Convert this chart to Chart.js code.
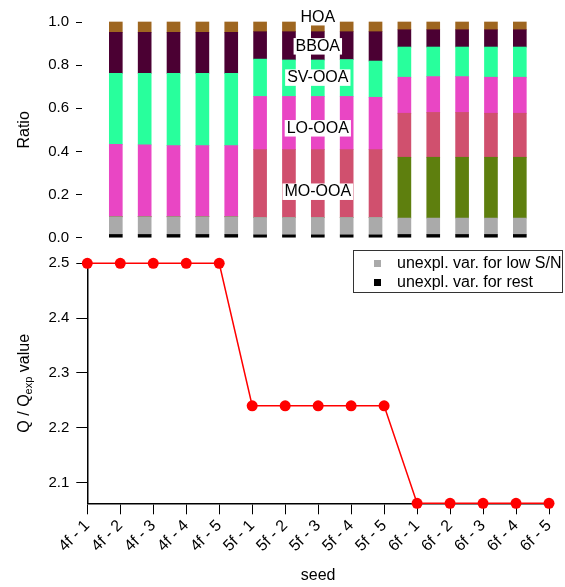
<!DOCTYPE html>
<html>
<head>
<meta charset="utf-8">
<script src="https://cdn.jsdelivr.net/npm/chart.js@4.4.0/dist/chart.umd.min.js"></script>
<style>
  html, body { margin: 0; padding: 0; background: #fff; }
  #wrap { position: relative; width: 565px; height: 587px; }
  #top { position: absolute; left: 0; top: 0; }
  #bottom { position: absolute; left: 0; top: 240px; }
</style>
</head>
<body>
<div id="wrap">
  <canvas id="top" width="565" height="254"></canvas>
  <canvas id="bottom" width="565" height="347"></canvas>
</div>
<script>
// seeds on the shared x axis
const seeds = ['4f - 1', '4f - 2', '4f - 3', '4f - 4', '4f - 5',
               '5f - 1', '5f - 2', '5f - 3', '5f - 4', '5f - 5',
               '6f - 1', '6f - 2', '6f - 3', '6f - 4', '6f - 5'];

// top panel: factor fractions, bottom to top of each stack
const unexplRest = [0.015, 0.015, 0.015, 0.015, 0.015, 0.013, 0.013, 0.013, 0.013, 0.013, 0.015, 0.015, 0.015, 0.015, 0.015];
const unexplLow  = [0.082, 0.082, 0.082, 0.082, 0.082, 0.081, 0.081, 0.081, 0.081, 0.081, 0.076, 0.076, 0.076, 0.076, 0.076];
const olive      = [0, 0, 0, 0, 0, 0, 0, 0, 0, 0, 0.282, 0.282, 0.282, 0.282, 0.282];
const moOoa      = [0, 0, 0, 0, 0, 0.314, 0.314, 0.314, 0.314, 0.314, 0.204, 0.208, 0.208, 0.204, 0.204];
const loOoa      = [0.336, 0.333, 0.330, 0.330, 0.330, 0.247, 0.247, 0.247, 0.247, 0.243, 0.167, 0.166, 0.166, 0.167, 0.167];
const svOoa      = [0.329, 0.332, 0.335, 0.335, 0.335, 0.173, 0.169, 0.169, 0.171, 0.168, 0.140, 0.137, 0.137, 0.140, 0.140];
const bboa       = [0.190, 0.190, 0.190, 0.190, 0.190, 0.127, 0.131, 0.131, 0.129, 0.136, 0.080, 0.080, 0.080, 0.080, 0.080];
const hoa        = [0.048, 0.048, 0.048, 0.048, 0.048, 0.045, 0.045, 0.045, 0.045, 0.045, 0.036, 0.036, 0.036, 0.036, 0.036];

// bottom panel
const qValues = [2.500, 2.500, 2.500, 2.500, 2.500, 2.240, 2.240, 2.240, 2.240, 2.240, 2.062, 2.062, 2.062, 2.062, 2.062];

const ratioTicks = [0, 0.2, 0.4, 0.6, 0.8, 1.0];

// factor names written over the 5f - 3 bar
const factorNames = ['HOA', 'BBOA', 'SV-OOA', 'LO-OOA', 'MO-OOA'];
const factorNameY = [1.028, 0.893, 0.748, 0.513, 0.219];
const factorNameBar = 7;

const FONT = 'Liberation Sans, Arial, sans-serif';
Chart.defaults.font.family = FONT;
Chart.defaults.font.size = 15;
Chart.defaults.color = '#000';

const stacks = [
  { label: 'unexpl. var. for rest', values: unexplRest, color: '#000000' },
  { label: 'unexpl. var. for low S/N', values: unexplLow, color: '#aaaaaa' },
  { label: 'OOA', values: olive, color: '#5e7f0e' },
  { label: 'MO-OOA', values: moOoa, color: '#d0506e' },
  { label: 'LO-OOA', values: loOoa, color: '#e946c4' },
  { label: 'SV-OOA', values: svOoa, color: '#28ff9c' },
  { label: 'BBOA', values: bboa, color: '#4b0033' },
  { label: 'HOA', values: hoa, color: '#9e6620' }
];

// rotated axis title, parts may be subscripts
function drawYTitle(ctx, x, y, parts) {
  ctx.save();
  ctx.translate(x, y);
  ctx.rotate(-Math.PI / 2);
  ctx.fillStyle = '#000';
  ctx.textBaseline = 'alphabetic';
  ctx.textAlign = 'left';
  let total = 0;
  parts.forEach(p => {
    ctx.font = (p.sub ? 11 : 16) + 'px ' + FONT;
    p.w = ctx.measureText(p.text).width;
    total += p.w;
  });
  let cx = -total / 2;
  parts.forEach(p => {
    ctx.font = (p.sub ? 11 : 16) + 'px ' + FONT;
    ctx.fillText(p.text, cx, p.sub ? 9 : 5.5);
    cx += p.w;
  });
  ctx.restore();
}

const factorNamePlugin = {
  id: 'factorNames',
  afterDatasetsDraw(chart) {
    const { ctx, scales } = chart;
    const x = scales.x.getPixelForValue(factorNameBar);
    ctx.save();
    ctx.font = '16px ' + FONT;
    ctx.textAlign = 'center';
    ctx.textBaseline = 'alphabetic';
    factorNames.forEach((name, i) => {
      const y = scales.y.getPixelForValue(factorNameY[i]);
      const w = ctx.measureText(name).width + 4;
      ctx.fillStyle = '#fff';
      ctx.fillRect(x - w / 2, y - 7, w, 16.5);
      ctx.fillStyle = '#000';
      ctx.fillText(name, x, y + 5.7);
    });
    ctx.restore();
  },
  afterDraw(chart) {
    const a = chart.chartArea;
    drawYTitle(chart.ctx, 23, (a.top + a.bottom) / 2, [{ text: 'Ratio' }]);
  }
};

new Chart(document.getElementById('top'), {
  type: 'bar',
  data: {
    datasets: stacks.map(s => ({
      label: s.label,
      data: s.values.map((v, i) => ({ x: i, y: v })),
      backgroundColor: s.color,
      borderWidth: 0,
      barThickness: 13,
      clip: false
    }))
  },
  options: {
    responsive: false,
    animation: false,
    devicePixelRatio: 1,
    layout: { padding: { top: 22, right: 16, bottom: 16.3, left: 0 } },
    plugins: { legend: { display: false }, tooltip: { enabled: false } },
    scales: {
      x: { type: 'linear', display: false, stacked: true, min: -0.16, max: seeds.length - 1 },
      y: {
        stacked: true,
        min: ratioTicks[0],
        max: ratioTicks[ratioTicks.length - 1],
        afterBuildTicks: s => { s.ticks = ratioTicks.map(v => ({ value: v })); },
        ticks: { callback: v => v.toFixed(1), padding: 7 },
        grid: { drawOnChartArea: false, tickLength: 6, color: '#000', lineWidth: 1 },
        border: { display: false },
        afterFit: s => { s.width = 82; }
      }
    }
  },
  plugins: [factorNamePlugin]
});

const bottomPlugin = {
  id: 'bottomExtras',
  afterDraw(chart) {
    const { ctx, chartArea: a } = chart;
    drawYTitle(ctx, 23, (a.top + a.bottom) / 2,
      [{ text: 'Q / Q' }, { text: 'exp', sub: true }, { text: ' value' }]);

    // legend for the two unexplained-variance stacks of the top panel
    ctx.save();
    ctx.fillStyle = '#fff';
    ctx.fillRect(353.5, 10.5, 209, 42);
    ctx.strokeStyle = '#333';
    ctx.lineWidth = 1;
    ctx.strokeRect(353.5, 10.5, 209, 42);
    ctx.font = '16px ' + FONT;
    ctx.textBaseline = 'middle';
    ctx.textAlign = 'left';
    [stacks[1], stacks[0]].forEach((s, i) => {
      const y = 23.5 + i * 19;
      ctx.fillStyle = s.color;
      ctx.fillRect(374, y - 3.5, 7, 7);
      ctx.fillStyle = '#000';
      ctx.fillText(s.label, 397, y);
    });
    ctx.restore();
  }
};

new Chart(document.getElementById('bottom'), {
  type: 'line',
  data: {
    labels: seeds,
    datasets: [{
      data: qValues,
      borderColor: '#ff0000',
      backgroundColor: '#ff0000',
      borderWidth: 1.5,
      pointRadius: 5.5,
      pointBorderWidth: 0,
      tension: 0,
      clip: false
    }]
  },
  options: {
    responsive: false,
    animation: false,
    devicePixelRatio: 1,
    layout: { padding: { top: 23.3, right: 16, bottom: 0, left: 0 } },
    plugins: { legend: { display: false }, tooltip: { enabled: false } },
    scales: {
      x: {
        offset: false,
        grid: { drawOnChartArea: false, tickLength: 11, color: '#000', lineWidth: 1 },
        border: { color: '#000', width: 1.5 },
        ticks: { minRotation: 45, maxRotation: 45, autoSkip: false, padding: 2, font: { size: 16 } },
        title: { display: true, text: 'seed', font: { size: 16 }, padding: { top: 0, bottom: 2 } },
        afterFit: s => { s.height = 83.7; }
      },
      y: {
        min: Math.min(...qValues),
        max: Math.max(...qValues),
        ticks: { stepSize: 0.1, includeBounds: false, callback: v => v.toFixed(1), padding: 7 },
        grid: { drawOnChartArea: false, tickLength: 11, color: '#000', lineWidth: 1 },
        border: { color: '#000', width: 1.5 },
        afterFit: s => { s.width = 87.3; }
      }
    }
  },
  plugins: [bottomPlugin]
});
</script>
</body>
</html>
